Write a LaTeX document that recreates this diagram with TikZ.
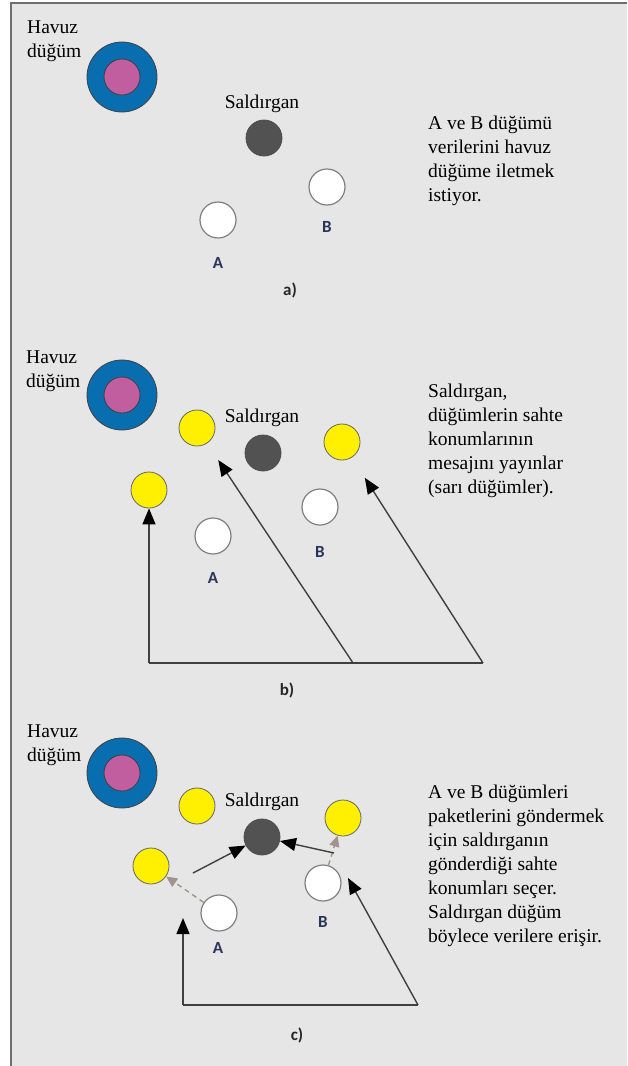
\documentclass[tikz,border=0pt]{standalone}
\usepackage{fontspec}
\setmainfont{Liberation Serif}
\newfontfamily\lblfont{Carlito}
\usetikzlibrary{arrows.meta,positioning,calc}

\definecolor{panelgray}{RGB}{230,230,230}
\definecolor{framegray}{RGB}{110,110,110}
\definecolor{hubblue}{RGB}{8,110,176}
\definecolor{hubpink}{RGB}{192,94,160}
\definecolor{atkgray}{RGB}{82,82,82}
\definecolor{fakeyellow}{RGB}{255,240,0}
\definecolor{lblblue}{RGB}{40,52,88}
\definecolor{dashbrown}{RGB}{160,148,142}
\definecolor{linegray}{RGB}{64,64,64}

\begin{document}
\begin{tikzpicture}[x=1pt, y=-1pt,
    hub/.style={circle, draw=black!75, fill=hubblue, line width=0.8pt, minimum size=70pt, inner sep=0pt},
    hubcore/.style={circle, draw=black!75, fill=hubpink, line width=0.8pt, minimum size=36pt, inner sep=0pt},
    atk/.style={circle, draw=black!70, fill=atkgray, line width=0.8pt, minimum size=36pt, inner sep=0pt},
    plain/.style={circle, draw=black!50, fill=white, line width=1.2pt, minimum size=36pt, inner sep=0pt},
    fake/.style={circle, draw=black!60, fill=fakeyellow, line width=0.8pt, minimum size=36pt, inner sep=0pt},
    txt/.style={font=\fontsize{19.5}{24}\selectfont, align=left, inner sep=0pt},
    lbl/.style={font=\lblfont\bfseries\fontsize{17}{20}\selectfont, text=lblblue, inner sep=0pt},
    figcap/.style={font=\lblfont\bfseries\fontsize{17}{20}\selectfont, text=black!85, inner sep=0pt},
    conn/.style={draw=linegray, line width=1.4pt},
    arrow/.style={conn, -{Triangle[length=16pt, width=13pt, color=black]}},
    fakearrow/.style={draw=dashbrown, line width=1.4pt, dash pattern=on 5pt off 4pt, -{Triangle[length=11pt, width=10pt]}}
]
\useasboundingbox (0,0) rectangle (627,1066);

% paper and frame
\fill[white] (0,0) rectangle (627,1066);
\fill[panelgray] (11,3) rectangle (627,1066);
\draw[framegray, line width=2pt] (11,1066) -- (11,3) -- (627,3);

% multi-line texts sit on the baseline of their last line

%% a) -------------------------------------------------
% Pool node
\node[hub] (hubA) at (122,77) {};
\node[hubcore] (hubAin) at (hubA) {};
\node[txt, anchor=base west] (hubAlbl) at (27,57) {Havuz\\düğüm};

% Attacker
\node[atk] (atkA) at (264,138) {};
\node[txt, anchor=base] (atkAlbl) at (262,108) {Saldırgan};

% Nodes A and B
\node[plain] (nA1) at (218,220) {};
\node[lbl] (nA1lbl) at (218,263) {A};
\node[plain] (nB1) at (327,187) {};
\node[lbl] (nB1lbl) at (327,227) {B};

\node[figcap] (capA) at (290,290) {a)};
\node[txt, anchor=base west] (descA) at (428,201) {A ve B düğümü\\verilerini havuz\\düğüme iletmek\\istiyor.};

%% b) -------------------------------------------------
% Pool node
\node[hub] (hubB) at (122,395) {};
\node[hubcore] (hubBin) at (hubB) {};
\node[txt, anchor=base west] (hubBlbl) at (26,387) {Havuz\\düğüm};

% Attacker and fake positions
\node[atk] (atkB) at (263,453) {};
\node[txt, anchor=base] (atkBlbl) at (262,422) {Saldırgan};
\node[fake] (fakeTB) at (197,428) {};
\node[fake] (fakeLB) at (149,490) {};
\node[fake] (fakeRB) at (342,442) {};

% Nodes A and B
\node[plain] (nA2) at (213,536) {};
\node[lbl] (nA2lbl) at (213,578) {A};
\node[plain] (nB2) at (320,507) {};
\node[lbl] (nB2lbl) at (320,552) {B};

% Broadcast arrows
\coordinate (baseLB) at (149,663);
\coordinate (baseMB) at (353,663);
\coordinate (baseRB) at (483,663);
\draw[conn] (baseLB) -- (baseRB);
\draw[arrow] (baseLB) -- (fakeLB);
\draw[arrow, shorten >=20pt] (baseMB) -- (fakeTB);
\draw[arrow, shorten >=24pt] (baseRB) -- (fakeRB);

\node[figcap] (capB) at (287,690) {b)};
\node[txt, anchor=base west] (descB) at (428,493) {Saldırgan,\\düğümlerin sahte\\konumlarının\\mesajını yayınlar\\(sarı düğümler).};

%% c) -------------------------------------------------
% Pool node
\node[hub] (hubC) at (122,773) {};
\node[hubcore] (hubCin) at (hubC) {};
\node[txt, anchor=base west] (hubClbl) at (27,761) {Havuz\\düğüm};

% Attacker and fake positions
\node[atk] (atkC) at (262,837) {};
\node[txt, anchor=base] (atkClbl) at (262,806) {Saldırgan};
\node[fake] (fakeTC) at (197,806) {};
\node[fake] (fakeLC) at (151,866) {};
\node[fake] (fakeRC) at (343,818) {};

% Nodes A and B
\node[plain] (nA3) at (219,913) {};
\node[lbl] (nA3lbl) at (218,948) {A};
\node[plain] (nB3) at (323,883) {};
\node[lbl] (nB3lbl) at (323,922) {B};

% Chosen fake positions
\draw[fakearrow] (nA3) -- (fakeLC);
\draw[fakearrow] (nB3) -- (fakeRC);

% Packets end at the attacker
\coordinate (outA) at (193,873);
\coordinate (outB) at (334,853);
\draw[arrow] (outA) -- (atkC);
\draw[arrow] (outB) -- (atkC);

% Broadcast arrows
\coordinate (baseLC) at (183,1005);
\coordinate (baseRC) at (418,1005);
\coordinate (tipLC) at (183,918);
\coordinate (tipRC) at (348,878);
\draw[conn] (baseLC) -- (baseRC);
\draw[arrow] (baseLC) -- (tipLC);
\draw[arrow] (baseRC) -- (tipRC);

\node[figcap] (capC) at (297,1035) {c)};
\node[txt, anchor=base west] (descC) at (428,942) {A ve B düğümleri\\paketlerini göndermek\\için saldırganın\\gönderdiği sahte\\konumları seçer.\\Saldırgan düğüm\\böylece verilere erişir.};
\end{tikzpicture}
\end{document}
